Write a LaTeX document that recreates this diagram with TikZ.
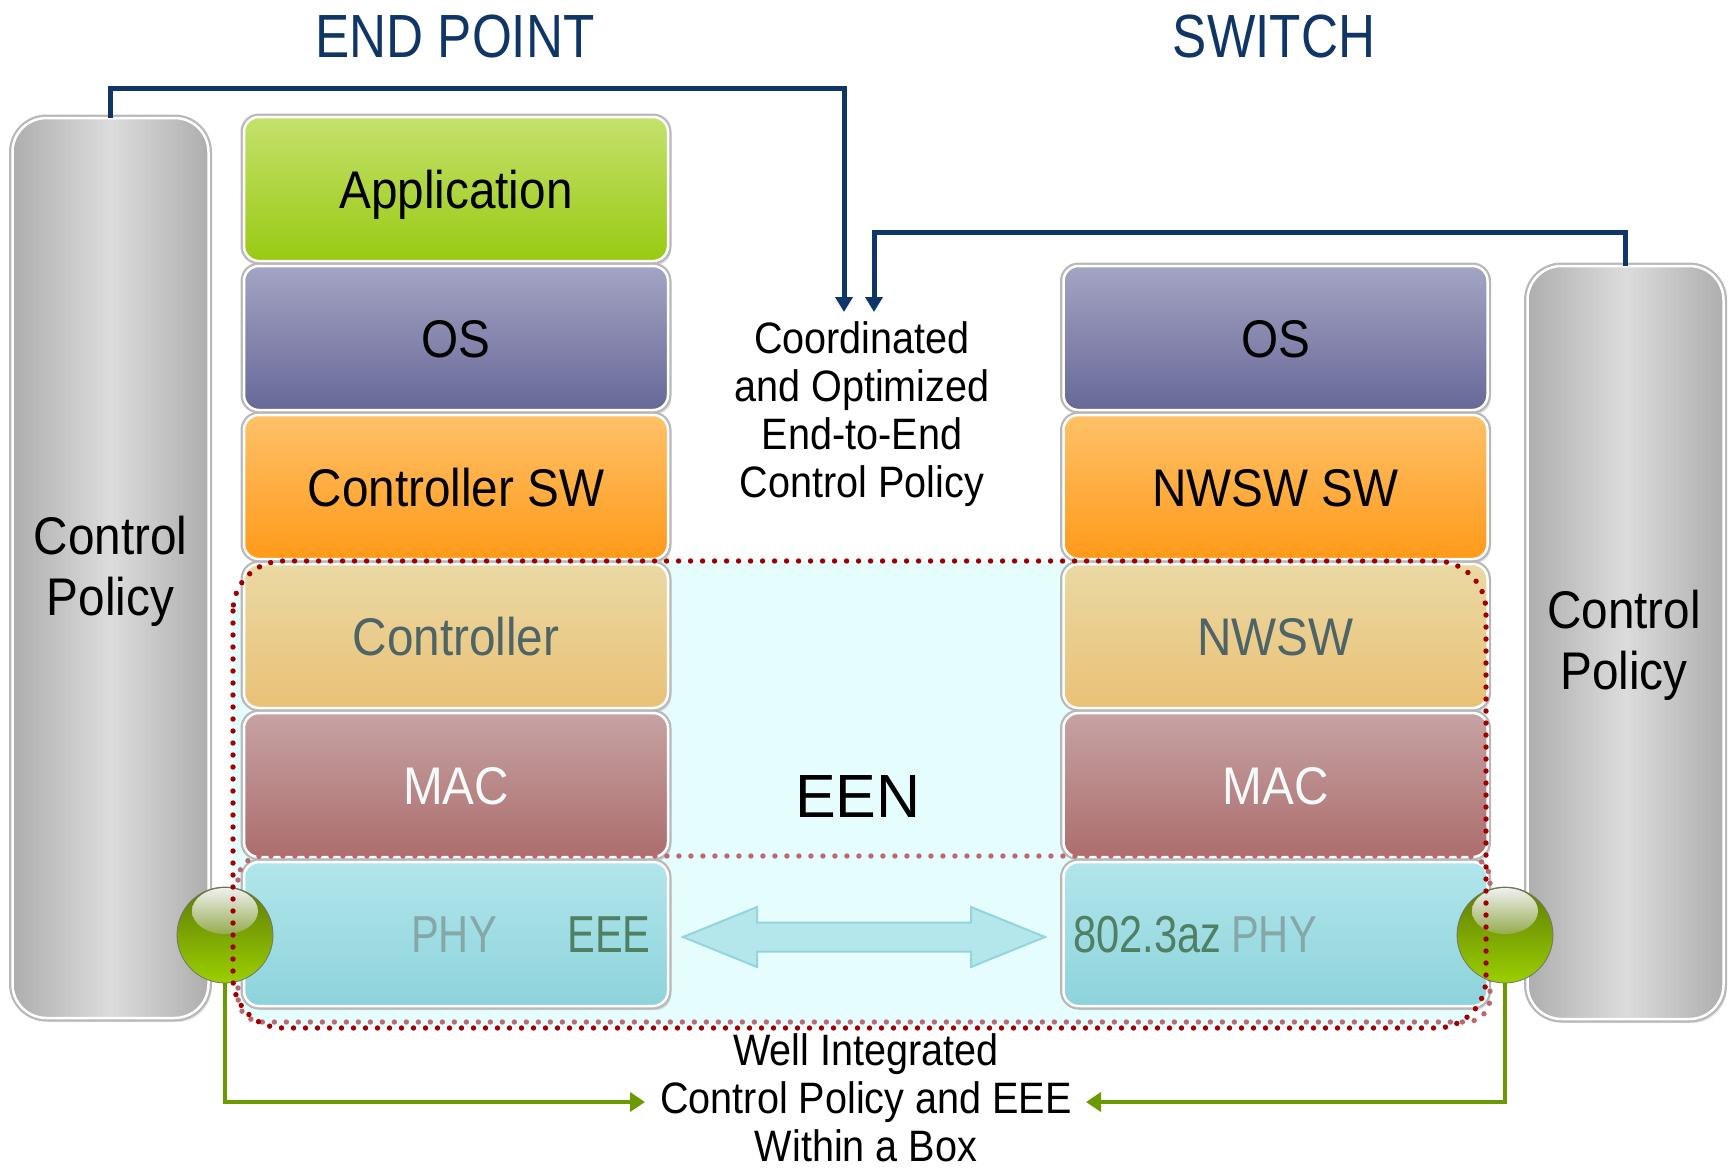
\documentclass[tikz,border=0pt]{standalone}
\usepackage{fontspec}
\setmainfont{Liberation Sans}[FakeStretch=0.9]
\newfontfamily\headfont{Liberation Sans}[FakeStretch=0.84]
\newfontfamily\slimfont{Liberation Sans}[FakeStretch=0.8]
\newfontfamily\plainfont{Liberation Sans}
\usetikzlibrary{shadows,arrows.meta}

% palette
\definecolor{hdblue}{RGB}{16,54,104}
\definecolor{appT}{RGB}{197,225,109}\definecolor{appB}{RGB}{152,202,18}
\definecolor{osT}{RGB}{164,164,196}\definecolor{osB}{RGB}{104,104,152}
\definecolor{swT}{RGB}{255,193,104}\definecolor{swB}{RGB}{255,154,26}
\definecolor{ctlT}{RGB}{234,217,163}\definecolor{ctlB}{RGB}{234,193,118}
\definecolor{macT}{RGB}{198,163,163}\definecolor{macB}{RGB}{173,109,109}
\definecolor{phyT}{RGB}{177,230,235}\definecolor{phyB}{RGB}{141,211,219}
\definecolor{pilEdge}{RGB}{174,174,174}\definecolor{pilMid}{RGB}{220,220,220}
\definecolor{ctltxt}{RGB}{79,100,103}
\definecolor{mactxt}{RGB}{242,250,250}
\definecolor{phytxt}{RGB}{134,167,168}
\definecolor{eeetxt}{RGB}{79,128,100}
\definecolor{eenbg}{RGB}{230,253,253}
\definecolor{dotred}{RGB}{160,0,0}
\definecolor{dotpink}{RGB}{188,104,112}
\definecolor{linkfill}{RGB}{179,231,236}
\definecolor{linkedge}{RGB}{148,213,221}
\definecolor{ballT}{RGB}{94,124,6}\definecolor{ballB}{RGB}{155,207,0}
\definecolor{shineB}{RGB}{150,172,80}
\definecolor{grn}{RGB}{106,154,0}

\begin{document}
\begin{tikzpicture}[x=1pt,y=-1pt,
  layer/.style={rectangle, rounded corners=15pt, minimum width=424pt,
    minimum height=144pt, inner sep=0pt, outer sep=0pt,
    draw=white, line width=2.5pt,
    drop shadow={shadow xshift=3pt, shadow yshift=-4pt, opacity=.25},
    preaction={draw=black!28, line width=7pt},
    font=\fontsize{53}{60}\selectfont, text height=38pt, text depth=0pt},
  appc/.style={top color=appT, bottom color=appB},
  osc/.style={top color=osT, bottom color=osB},
  swc/.style={top color=swT, bottom color=swB},
  ctlc/.style={top color=ctlT, bottom color=ctlB, text=ctltxt},
  macc/.style={top color=macT, bottom color=macB, text=mactxt},
  phyc/.style={top color=phyT, bottom color=phyB},
  boxlbl/.style={inner sep=0pt, font=\slimfont\fontsize{52}{60}\selectfont,
    text height=37pt, text depth=0pt},
  pillar/.style={rectangle, rounded corners=34pt, minimum width=196pt,
    inner sep=0pt, outer sep=0pt, draw=white, line width=2.5pt,
    drop shadow={shadow xshift=3pt, shadow yshift=-4pt, opacity=.2},
    preaction={draw=black!28, line width=7pt},
    left color=pilEdge, right color=pilEdge, middle color=pilMid},
  pltext/.style={anchor=north, inner sep=0pt, align=center,
    font=\fontsize{53}{61}\selectfont},
  title/.style={inner sep=0pt, text=hdblue, text height=44pt, text depth=0pt,
    font=\headfont\fontsize{61}{70}\selectfont},
  note/.style={anchor=north, inner sep=0pt, align=center,
    font=\fontsize{44}{48}\selectfont},
  dotline/.style={line width=5.4pt, line cap=round, dash pattern=on 0pt off 12pt},
  bluecon/.style={draw=hdblue, line width=5pt, -{Triangle[length=15pt,width=17pt]}},
  greencon/.style={draw=grn, line width=4.5pt, -{Triangle[length=15pt,width=19pt]}},
  ball/.style={circle, minimum size=96pt, inner sep=0pt, outer sep=0pt,
    top color=ballT, bottom color=ballB, draw=black!55, line width=0.8pt},
  shine/.style={top color=white!94!black, bottom color=shineB},
  link/.style={fill=linkfill, draw=linkedge, line width=2pt, line join=miter}
]
\useasboundingbox (0,0) rectangle (1729,1168);

% EEN zone background
\fill[eenbg, rounded corners=50pt] (233,561) rectangle (1486,1028);

% control policy pillars
\node[pillar, minimum height=900pt] (lpil) at (110.5,568) {};
\node[pillar, minimum height=753pt] (rpil) at (1625.5,642.5) {};
\node[pltext] (lpt) at (110.5,516) {Control\\Policy};
\node[pltext] (rpt) at (1624,590) {Control\\Policy};

% titles
\node[title] (tep) at (455,35) {END POINT};
\node[title] (tsw) at (1274,35) {SWITCH};

% end point stack
\node[layer, appc] (app) at (456,189) {Application};
\node[layer, osc] (os1) at (456,338) {OS};
\node[layer, swc] (csw) at (456,487) {Controller SW};
\node[layer, ctlc] (ctl) at (456,636) {Controller};
\node[layer, macc] (mac1) at (456,785) {MAC};
\node[layer, phyc] (phy1) at (456,934) {};
\node[boxlbl, text=phytxt] (phyl) at (454,934) {PHY};
\node[boxlbl, text=eeetxt] (eee) at (609,934) {EEE};

% switch stack
\node[layer, osc] (os2) at (1275.5,338) {OS};
\node[layer, swc] (nsw) at (1275.5,487) {NWSW SW};
\node[layer, ctlc] (nw) at (1275.5,636) {NWSW};
\node[layer, macc] (mac2) at (1275.5,785) {MAC};
\node[layer, phyc] (phy2) at (1275.5,934) {};
\node[boxlbl, text=eeetxt, anchor=west] (az) at (1073,934) {802.3az};
\node[boxlbl, text=phytxt] (phyr) at (1274,934) {PHY};

% PHY row outline
\draw[dotline, draw=dotpink, rounded corners=24pt] (238,856) rectangle (1490,1022);

% PHY-to-PHY link
\draw[link] (683,937) -- (757,907) -- (757,922.5) -- (971,922.5) -- (971,907)
  -- (1045,937) -- (971,967) -- (971,951.5) -- (757,951.5) -- (757,967) -- cycle;

\node[inner sep=0pt, text height=45pt, text depth=0pt,
  font=\plainfont\fontsize{61}{70}\selectfont] (een) at (858,795) {EEN};

% integration points
\node[ball] (lball) at (225,935) {};
\shade[shine] (225,911) ellipse (33 and 23);
\node[ball] (rball) at (1505,935) {};
\shade[shine] (1505,911) ellipse (33 and 23);

% EEN zone outline
\draw[dotline, draw=dotred, rounded corners=50pt] (233,561) rectangle (1486,1028);

% coordinated policy connectors
\coordinate (tipA) at (844,312);
\coordinate (tipB) at (874,312);
\draw[bluecon] (lpil.north) -- ++(0,-30) -| (tipA);
\draw[bluecon] (rpil.north) -- ++(0,-34) -| (tipB);
\node[note] (coord) at (862,321) {Coordinated\\and Optimized\\End-to-End\\Control Policy};

% integration connectors
\coordinate (gtipA) at (645,1102);
\coordinate (gtipB) at (1086,1102);
\draw[greencon] (lball.south) |- (gtipA);
\draw[greencon] (rball.south) |- (gtipB);
\node[note] (wib) at (866,1033) {Well Integrated\\Control Policy and EEE\\Within a Box};
\end{tikzpicture}
\end{document}
